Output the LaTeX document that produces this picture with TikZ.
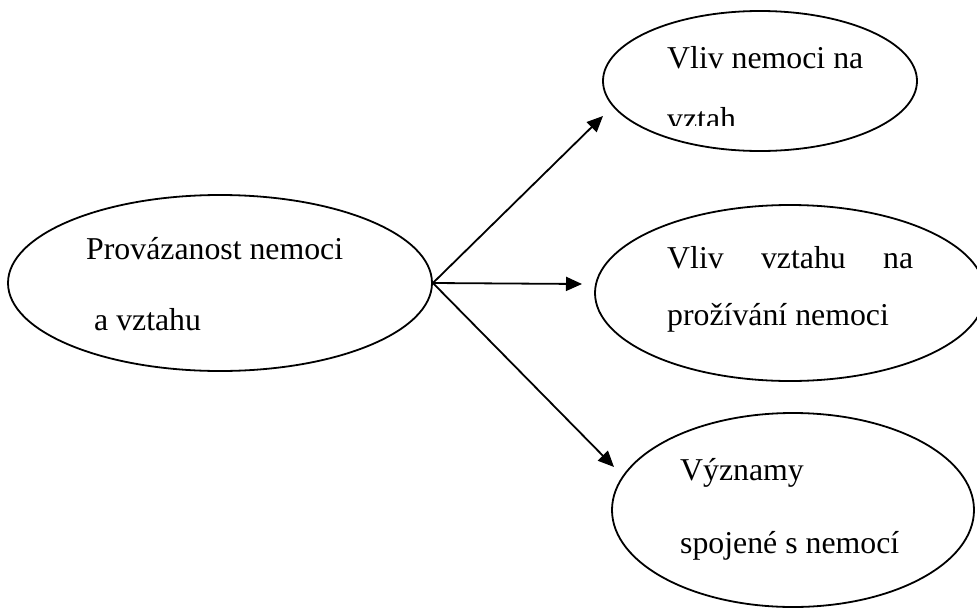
\documentclass[tikz,border=0pt]{standalone}
\usepackage{fontspec}
\setmainfont{Liberation Serif}
\usetikzlibrary{shapes.geometric,arrows.meta}
\begin{document}
\begin{tikzpicture}[x=1pt,y=-1pt,
  oval/.style={draw,ellipse,line width=1.8pt,inner sep=0pt},
  lbl/.style={anchor=base west,inner sep=0pt,font=\fontsize{31.8}{37}\selectfont},
  arr/.style={line width=1.8pt,-{Triangle[length=16pt,width=14pt]}}]
\useasboundingbox (0,0) rectangle (977,608);
\clip (0,0) rectangle (977,608);
\node[oval,minimum width=424pt,minimum height=176pt] (src) at (220,283) {};
\node[oval,minimum width=314pt,minimum height=140pt] (e1) at (760,81) {};
\node[oval,minimum width=390pt,minimum height=176pt] (e2) at (790,293) {};
\node[oval,minimum width=362pt,minimum height=194pt] (e3) at (793,510) {};
\node[lbl] (s1) at (86,259) {Provázanost nemoci};
\node[lbl] (s2) at (94,330) {a vztahu};
\node[lbl] (a1) at (667,68) {Vliv nemoci na};
\begin{scope}
\clip (600,90) rectangle (900,125);
\node[lbl] (a2) at (667,129) {vztah};
\end{scope}
\node[lbl] (b1) at (667,268) {\makebox[246pt][s]{Vliv vztahu na}};
\node[lbl] (b2) at (667,325) {prožívání nemoci};
\node[lbl] (c1) at (680,480) {Významy};
\node[lbl] (c2) at (680,553) {spojené s nemocí};
\coordinate (t1) at (603,116);
\coordinate (t2) at (582,284);
\coordinate (t3) at (614,467);
\draw[arr] (src.east) -- (t1);
\draw[arr] (src.east) -- (t2);
\draw[arr] (src.east) -- (t3);
\end{tikzpicture}
\end{document}
